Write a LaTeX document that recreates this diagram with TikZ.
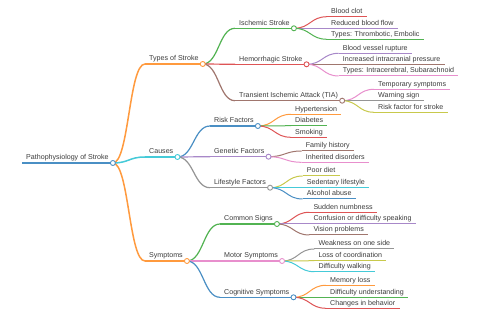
\documentclass[tikz,border=0pt]{standalone}
\usepackage{fontspec}
\setmainfont{Liberation Sans}
\usetikzlibrary{calc}
\definecolor{cblue}{HTML}{4A8FC4}
\definecolor{corange}{HTML}{FF9A3E}
\definecolor{cgreen}{HTML}{52B352}
\definecolor{cred}{HTML}{DE5455}
\definecolor{cpurple}{HTML}{A888C9}
\definecolor{cbrown}{HTML}{A0766E}
\definecolor{cpink}{HTML}{E88FCD}
\definecolor{cgray}{HTML}{959595}
\definecolor{colive}{HTML}{C8C94C}
\definecolor{ccyan}{HTML}{45CAD8}
\definecolor{txt}{HTML}{3C3C3C}
\tikzset{
  mm/.style={anchor=south west, inner xsep=4pt, inner ysep=1.3pt,
    text height=5.1pt, text depth=1.5pt, text=txt,
    font=\fontsize{7.1}{8}\selectfont},
  lk/.style={to path={let \p1=(\tikztostart), \p2=(\tikztotarget) in
    .. controls ({(\x1+\x2)/2},\y1) and ({(\x1+\x2)/2},\y2) .. (\tikztotarget)}},
}
\begin{document}
\begin{tikzpicture}[x=1pt,y=-1pt]
\useasboundingbox (0,0) rectangle (480,320);
\fill[white] (0,0) rectangle (480,320);
% nodes
\node[mm] (root) at (22,163) {Pathophysiology of Stroke};
\node[mm] (types) at (145,64) {Types of Stroke};
\node[mm] (causes) at (145,157) {Causes};
\node[mm] (sympt) at (145,261) {Symptoms};
\node[mm] (isch) at (235,28.3) {Ischemic Stroke};
\node[mm] (hemo) at (235,64.3) {Hemorrhagic Stroke};
\node[mm] (tia) at (235,100.7) {Transient Ischemic Attack (TIA)};
\node[mm] (risk) at (210,126) {Risk Factors};
\node[mm] (gene) at (210,156.7) {Genetic Factors};
\node[mm] (life) at (210,187.7) {Lifestyle Factors};
\node[mm] (common) at (220,224) {Common Signs};
\node[mm] (motor) at (220,261) {Motor Symptoms};
\node[mm] (cogn) at (220,297.3) {Cognitive Symptoms};
\node[mm] (clot) at (327,16.7) {Blood clot};
\node[mm] (flow) at (327,28.3) {Reduced blood flow};
\node[mm] (tte) at (327,39.3) {Types: Thrombotic, Embolic};
\node[mm] (rupt) at (338.7,53.3) {Blood vessel rupture};
\node[mm] (icp) at (338.7,64.3) {Increased intracranial pressure};
\node[mm] (tis) at (338.7,76) {Types: Intracerebral, Subarachnoid};
\node[mm] (temp) at (374,89.3) {Temporary symptoms};
\node[mm] (warn) at (374,100.7) {Warning sign};
\node[mm] (rfs) at (374,112.3) {Risk factor for stroke};
\node[mm] (hyp) at (291,114.3) {Hypertension};
\node[mm] (diab) at (291,125.7) {Diabetes};
\node[mm] (smok) at (291,137.3) {Smoking};
\node[mm] (fam) at (301.7,151) {Family history};
\node[mm] (inh) at (301.7,162.3) {Inherited disorders};
\node[mm] (diet) at (302.7,176) {Poor diet};
\node[mm] (sed) at (302.7,187.7) {Sedentary lifestyle};
\node[mm] (alc) at (302.7,199) {Alcohol abuse};
\node[mm] (numb) at (309.3,212.3) {Sudden numbness};
\node[mm] (conf) at (309.3,224) {Confusion or difficulty speaking};
\node[mm] (vis) at (309.3,235) {Vision problems};
\node[mm] (weak) at (314.3,249) {Weakness on one side};
\node[mm] (coord) at (314.3,260.7) {Loss of coordination};
\node[mm] (walk) at (314.3,271.7) {Difficulty walking};
\node[mm] (mem) at (326,285.3) {Memory loss};
\node[mm] (und) at (326,297.3) {Difficulty understanding};
\node[mm] (beh) at (326,308.3) {Changes in behavior};
% links
\foreach \src/\dst/\col/\w in {
  root/types/corange/1.5, root/causes/ccyan/1.5, root/sympt/corange/1.5,
  types/isch/cgreen/1.2, types/hemo/cred/1.2, types/tia/cbrown/1.2,
  causes/risk/cblue/1.2, causes/gene/cpurple/1.2, causes/life/cgray/1.2,
  sympt/common/cgreen/1.2, sympt/motor/cpink/1.2, sympt/cogn/cblue/1.2,
  isch/clot/cred/1, isch/flow/cpurple/1, isch/tte/cgreen/1,
  hemo/rupt/cpurple/1, hemo/icp/cbrown/1, hemo/tis/cpink/1,
  tia/temp/cpink/1, tia/warn/cgray/1, tia/rfs/colive/1,
  risk/hyp/corange/1, risk/diab/cgreen/1, risk/smok/cred/1,
  gene/fam/cbrown/1, gene/inh/cpink/1,
  life/diet/colive/1, life/sed/ccyan/1, life/alc/cblue/1,
  common/numb/cred/1, common/conf/cpurple/1, common/vis/cbrown/1,
  motor/weak/cgray/1, motor/coord/colive/1, motor/walk/ccyan/1,
  cogn/mem/corange/1, cogn/und/cgreen/1, cogn/beh/cred/1}
  {\draw[lk,\col,line width=\w pt] (\src.south east) to (\dst.south west);
   \draw[\col,line width=\w pt] (\dst.south west) -- (\dst.south east);}
% root underline
\draw[cblue,line width=1.8pt] (root.south west) -- (root.south east);
% circles
\foreach \n/\col in {root/cblue, types/corange, causes/ccyan, sympt/corange,
  isch/cgreen, hemo/cred, tia/cbrown, risk/cblue, gene/cpurple, life/cgray,
  common/cgreen, motor/cpink, cogn/cblue}
  {\draw[\col,fill=white,line width=0.9pt] (\n.south east) circle[radius=2.5];}
\end{tikzpicture}
\end{document}
